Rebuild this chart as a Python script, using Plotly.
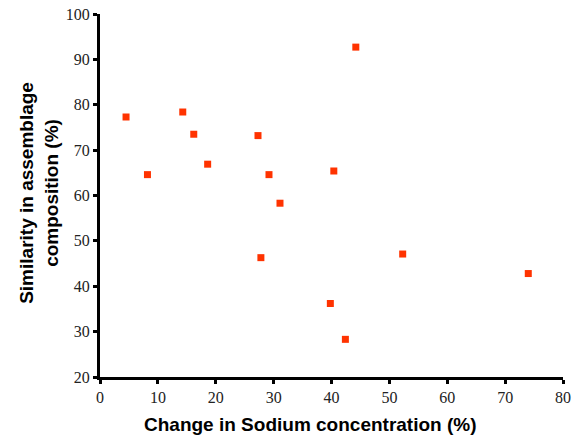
import plotly.graph_objects as go

sodium_change = [4.5, 8.2, 14.3, 16.2, 18.6, 27.3, 29.2, 31.1, 27.8, 44.2, 40.4, 39.8, 42.4, 52.3, 74.0]
similarity = [77.3, 64.6, 78.4, 73.5, 66.9, 73.2, 64.6, 58.3, 46.3, 92.7, 65.4, 36.2, 28.3, 47.1, 42.8]

x_ticks = [0, 10, 20, 30, 40, 50, 60, 70, 80]
y_ticks = [20, 30, 40, 50, 60, 70, 80, 90, 100]

x_title = "Change in Sodium concentration (%)"
y_title = "Similarity in assemblage<br>composition (%)"

fig = go.Figure(go.Scatter(
    x=sodium_change, y=similarity, mode="markers",
    marker=dict(symbol="square", size=7, color="#FF3300", line=dict(width=0)),
    cliponaxis=False,
))

tickfont = dict(family="Liberation Serif", size=16, color="#222222")
titlefont = dict(family="Liberation Sans", size=19, color="black", weight="bold")

fig.update_layout(
    width=579, height=436,
    margin=dict(l=100, r=16, t=14, b=59),
    paper_bgcolor="white", plot_bgcolor="white",
    showlegend=False,
    xaxis=dict(
        range=[0, 80], tickvals=x_ticks, ticktext=[str(v) for v in x_ticks],
        showgrid=False, zeroline=False, showline=True, linecolor="black", linewidth=3,
        ticks="outside", ticklen=4, tickwidth=3, tickcolor="black",
        tickfont=tickfont, automargin=False, ticklabeloverflow="allow",
    ),
    yaxis=dict(
        range=[20, 100], tickvals=y_ticks, ticktext=[str(v) for v in y_ticks],
        showgrid=False, zeroline=False, showline=True, linecolor="black", linewidth=3,
        ticks="outside", ticklen=4, tickwidth=3, tickcolor="black",
        tickfont=tickfont, automargin=False, ticklabeloverflow="allow",
    ),
    annotations=[
        dict(text=x_title, xref="paper", yref="paper", x=0.4536, y=-0.132,
             xanchor="center", yanchor="middle", showarrow=False, font=titlefont),
        dict(text=y_title, xref="paper", yref="paper", x=-0.132, y=0.507,
             xanchor="center", yanchor="middle", textangle=-90, showarrow=False,
             font=titlefont),
    ],
)

fig.write_html(
    "out.html",
    config={"displayModeBar": False},
    post_script="document.body.style.margin='0';document.body.style.overflow='hidden';",
)
